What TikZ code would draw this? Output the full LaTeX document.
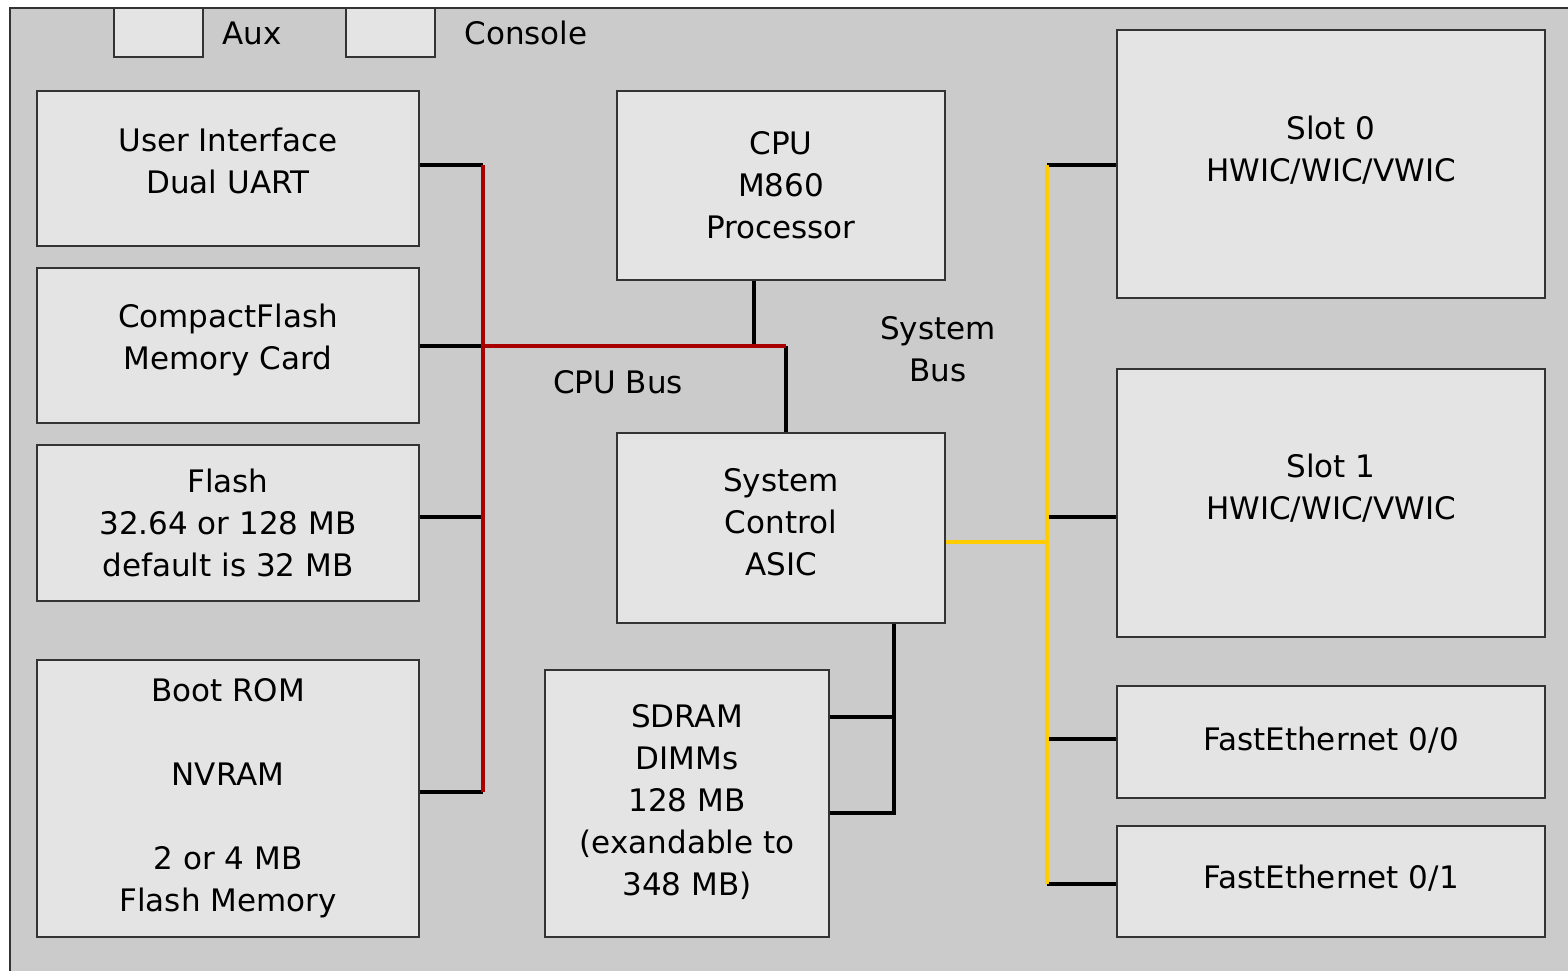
\documentclass[tikz,border=0pt]{standalone}
\usepackage{fontspec}
\setmainfont{DejaVu Sans}
\definecolor{panel}{HTML}{CBCBCB}
\definecolor{boxfill}{HTML}{E4E4E4}
\definecolor{busred}{HTML}{A80000}
\definecolor{busyellow}{HTML}{FFCC00}
\tikzset{
  block/.style={
    draw=black!80,
    line width=1pt,
    fill=boxfill,
    align=center,
    inner sep=0pt,
    font=\fontsize{15.5}{21}\selectfont,
  },
  label text/.style={
    align=center,
    inner sep=0pt,
    font=\fontsize{15.5}{21}\selectfont,
  },
  stub/.style={line width=2pt, black},
  cpu bus/.style={line width=1.6pt, busred},
  sys bus/.style={line width=1.6pt, busyellow},
}

\begin{document}
\begin{tikzpicture}[x=0.5pt, y=-0.5pt]
        \useasboundingbox (0,0) rectangle (1568,970);
        \fill[panel] (10,8) rectangle (1580,980);
        \draw[black!80, line width=1pt] (10,980) -- (10,8) -- (1580,8);

        \node[block, minimum width=44.5pt, minimum height=24.5pt] (aux) at (158.5,32.5) {};
        \node[block, minimum width=44.5pt, minimum height=24.5pt] (console) at (390.5,32.5) {};
        \node[label text] (auxlabel) at (252,33) {Aux};
        \node[label text] (consolelabel) at (526,33) {Console};

        \node[block, minimum width=191pt, minimum height=77.5pt] (ui) at (228,168.5) {User Interface\\Dual UART\\[-13.5pt]};
        \node[block, minimum width=191pt, minimum height=77.5pt] (cf) at (228,345.5) {CompactFlash\\Memory Card\\[-12.5pt]};
        \node[block, minimum width=191pt, minimum height=78pt] (flash) at (228,523) {Flash\\32.64 or 128 MB\\default is 32 MB};
        \node[block, minimum width=191pt, minimum height=138.5pt] (bootrom) at (228,798.5) {Boot ROM\\[21pt]NVRAM\\[21pt]2 or 4 MB\\Flash Memory};

        \node[block, minimum width=164pt, minimum height=94.5pt] (cpu) at (781,185.5) {CPU\\M860\\Processor};
        \node[block, minimum width=164pt, minimum height=95pt] (asic) at (781,528) {System\\Control\\ASIC\\[-15pt]};
        \node[block, minimum width=142pt, minimum height=133.5pt] (sdram) at (687,803.5) {SDRAM\\DIMMs\\128 MB\\(exandable to\\348 MB)\\[-17pt]};

        \node[block, minimum width=214pt, minimum height=134pt] (slot0) at (1331,164) {Slot 0\\HWIC/WIC/VWIC\\[-6pt]};
        \node[block, minimum width=214pt, minimum height=134pt] (slot1) at (1331,503) {Slot 1\\HWIC/WIC/VWIC\\[-5pt]};
        \node[block, minimum width=214pt, minimum height=56pt] (fe0) at (1331,742) {FastEthernet 0/0\\[-18pt]};
        \node[block, minimum width=214pt, minimum height=55.5pt] (fe1) at (1331,881.5) {FastEthernet 0/1\\[-16pt]};

        \node[label text] (cpubuslabel) at (618,382) {CPU Bus};
        \node[label text] (sysbuslabel) at (938,349) {System\\Bus};

        \coordinate (rb1) at (483,165);
        \coordinate (rb2) at (483,346);
        \coordinate (rb3) at (483,517);
        \coordinate (rb4) at (483,792);
        \coordinate (cpuj) at (754,346);
        \coordinate (rbend) at (786,346);

        \coordinate (yb1) at (1047,165);
        \coordinate (yb2) at (1047,517);
        \coordinate (ybj) at (1047,542);
        \coordinate (yb3) at (1047,739);
        \coordinate (yb4) at (1047,884);

        \coordinate (sd1) at (894,717);
        \coordinate (sd2) at (894,813);

        \draw[stub] (ui.east |- rb1) -- (rb1);
        \draw[stub] (cf.east |- rb2) -- (rb2);
        \draw[stub] (flash.east |- rb3) -- (rb3);
        \draw[stub] (bootrom.east |- rb4) -- (rb4);
        \draw[stub] (cpu.south -| cpuj) -- (cpuj);
        \draw[stub] (rbend) -- (asic.north -| rbend);
        \draw[cpu bus] (rb1) -- (rb4);
        \draw[cpu bus] (rb2) -- (rbend);

        \draw[stub] (yb1) -- (slot0.west |- yb1);
        \draw[stub] (yb2) -- (slot1.west |- yb2);
        \draw[stub] (yb3) -- (fe0.west |- yb3);
        \draw[stub] (yb4) -- (fe1.west |- yb4);
        \draw[sys bus] (yb1) -- (yb4);
        \draw[sys bus] (asic.east |- ybj) -- (ybj);

        \draw[stub] (asic.south -| sd1) -- (sd1) -- (sd2) -- (sdram.east |- sd2);
        \draw[stub] (sdram.east |- sd1) -- (sd1);
\end{tikzpicture}
\end{document}
